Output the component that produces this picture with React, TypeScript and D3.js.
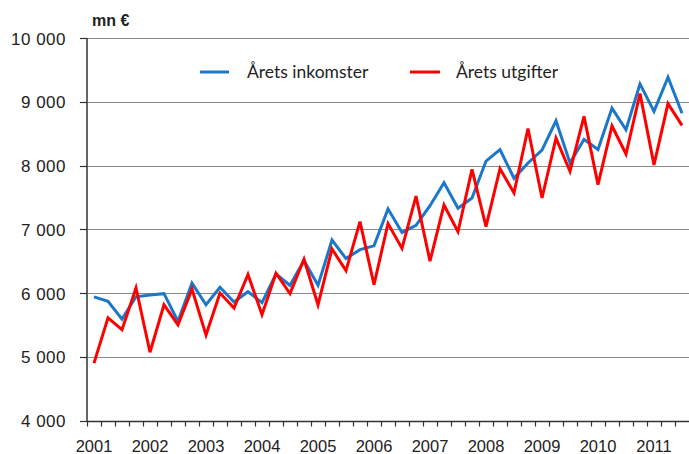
import React from "react";
import * as d3 from "d3";

const years = ["2001", "2002", "2003", "2004", "2005", "2006", "2007", "2008", "2009", "2010", "2011"];
const quarterNames = ["Q1", "Q2", "Q3", "Q4"];
const categories: string[] = years.flatMap((y) => quarterNames.map((q) => y + q)).slice(0, 43);

const income = [
  5940, 5870, 5590, 5940, 5970, 5990, 5555, 6155, 5815, 6090, 5860, 6020, 5850, 6300, 6120, 6510,
  6120, 6830, 6540, 6680, 6740, 7320, 6950, 7060, 7370, 7730, 7330, 7490, 8070, 8250, 7800, 8040,
  8240, 8700, 8040, 8410, 8250, 8900, 8560, 9280, 8850, 9385, 8820,
];
const expenditure = [
  4900, 5610, 5425, 6080, 5070, 5815, 5500, 6060, 5340, 6000, 5765, 6290, 5660, 6310, 5990, 6530,
  5815, 6690, 6350, 7120, 6130, 7090, 6700, 7520, 6500, 7380, 6960, 7940, 7040, 7950, 7570, 8580,
  7490, 8430, 7910, 8770, 7700, 8620, 8180, 9130, 8010, 8970, 8630,
];
const yTicks = [4000, 5000, 6000, 7000, 8000, 9000, 10000];
const yTickLabels = ["4 000", "5 000", "6 000", "7 000", "8 000", "9 000", "10 000"];
const seriesNames = ["Årets inkomster", "Årets utgifter"];
const seriesColors = ["#1c77c9", "#ff0000"];

const W = 689;
const H = 454;
const left = 87;
const right = 689;
const top = 38;
const bottom = 420.5;

export default function App() {
  const x = d3.scaleBand<string>().domain(categories).range([left, right]).padding(0);
  const y = d3.scaleLinear().domain([4000, 10000]).range([bottom, top]);
  const cx = (c: string) => (x(c) as number) + x.bandwidth() / 2;
  const line = d3
    .line<number>()
    .x((_, i) => cx(categories[i]))
    .y((d) => y(d));
  const series = [income, expenditure];
  const tickFont = "'Liberation Sans', Arial, sans-serif";
  const legendFont = "Lato, 'Open Sans', sans-serif";

  return (
    <svg
      width={W}
      height={H}
      style={{ position: "absolute", left: 0, top: 0, background: "#fff" }}
    >
      <rect x={0} y={0} width={W} height={H} fill="#fff" />
      {yTicks.map((t, i) => (
        <g key={t}>
          {i > 0 && (
            <line x1={left} x2={right} y1={Math.round(y(t)) + 0.5} y2={Math.round(y(t)) + 0.5} stroke="#8c8c8c" strokeWidth={1.2} />
          )}
          <line x1={left - 7} x2={left} y1={Math.round(y(t)) + 0.5} y2={Math.round(y(t)) + 0.5} stroke="#333" strokeWidth={1.2} />
          <text
            x={66}
            y={y(t) + 1}
            textAnchor="end"
            dominantBaseline="central"
            fontFamily={tickFont}
            fontSize={17}
            letterSpacing={0.5}
            fill="#222"
          >
            {yTickLabels[i]}
          </text>
        </g>
      ))}
      <text x={92} y={26} fontFamily={tickFont} fontSize={16} fontWeight="bold" fill="#222">
        mn €
      </text>
      {/* axes */}
      <line x1={left} x2={left} y1={top} y2={bottom + 1} stroke="#333" strokeWidth={1.5} />
      <line x1={left} x2={right} y1={bottom + 1} y2={bottom + 1} stroke="#333" strokeWidth={1.5} />
      {categories.map((c) => (
        <line
          key={c}
          x1={Math.round(x(c) as number) + 0.5}
          x2={Math.round(x(c) as number) + 0.5}
          y1={bottom + 1}
          y2={bottom + 6}
          stroke="#333"
          strokeWidth={1.2}
        />
      ))}
      {categories
        .filter((c) => c.endsWith("Q1"))
        .map((c) => (
          <text
            key={c}
            x={cx(c)}
            y={451.5}
            textAnchor="middle"
            fontFamily={tickFont}
            fontSize={16.5}
            fill="#222"
          >
            {c.slice(0, 4)}
          </text>
        ))}
      {series.map((s, i) => (
        <path
          key={i}
          d={line(s) || ""}
          fill="none"
          stroke={seriesColors[i]}
          strokeWidth={3}
          strokeLinejoin="miter"
        />
      ))}
      {/* legend */}
      <line x1={200} x2={229} y1={72} y2={72} stroke={seriesColors[0]} strokeWidth={3} />
      <text x={247} y={78} fontFamily={legendFont} fontSize={17.5} fill="#222">
        {seriesNames[0]}
      </text>
      <line x1={410} x2={440} y1={72} y2={72} stroke={seriesColors[1]} strokeWidth={3} />
      <text x={456} y={78} fontFamily={legendFont} fontSize={17.5} fill="#222">
        {seriesNames[1]}
      </text>
    </svg>
  );
}
